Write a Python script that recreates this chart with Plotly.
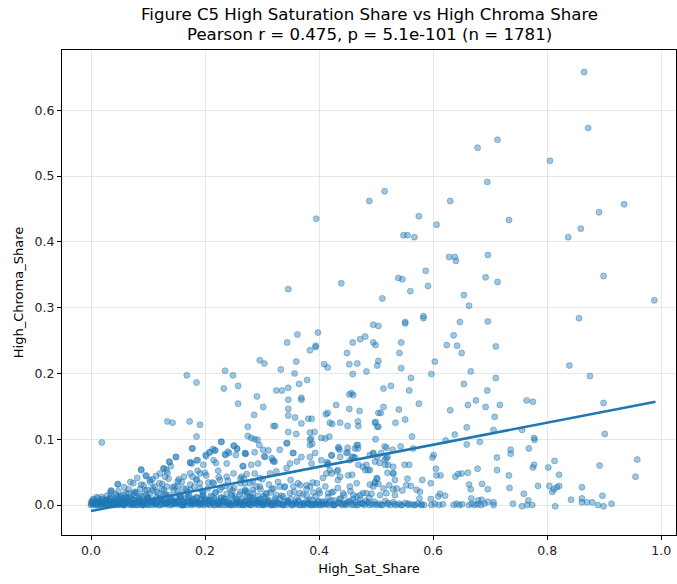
import numpy as np
import plotly.graph_objects as go

# ---- sparse / upper points (High_Sat_Share, High_Chroma_Share) ----
upper_x = [0.865,0.872,0.713,0.678,0.805,0.695,0.515,0.488,0.630,0.935,0.891,0.395,0.575,0.733,0.606,0.859,0.548,0.555,0.567,0.837,
           0.628,0.638,0.640,0.696,0.587,0.539,0.546,0.692,0.713,0.899,0.439,0.346,0.560,0.591,0.511,0.654,0.988,0.663,0.856,0.495,
           0.504,0.551,0.551,0.583,0.583,0.647,0.696,0.362,0.344,0.398,0.384,0.394,0.394,0.449,0.459,0.472,0.481,0.495,0.499,0.544,
           0.541,0.636,0.624,0.642,0.650,0.710,0.296,0.304,0.333,0.360,0.357,0.365,0.379,0.409,0.415,0.453,0.467,0.459,0.483,0.504,
           0.502,0.544,0.603,0.597,0.561,0.666,0.710,0.839,0.875,0.168,0.185,0.235,0.249,0.233,0.258,0.258,0.291,0.286,0.302,0.325,
           0.335,0.346,0.346,0.346,0.346,0.369,0.369,0.358,0.369,0.381,0.387,0.320,0.323,0.275,0.275,0.281,0.287,0.292,0.295,0.304,
           0.311,0.319,0.322,0.346,0.344,0.360,0.354,0.361,0.384,0.386,0.388,0.392,0.404,0.411,0.418,0.412,0.415,0.430,0.453,0.471,
           0.419,0.423,0.437,0.450,0.468,0.469,0.460,0.453,0.457,0.499,0.499,0.504,0.450,0.450,0.468,0.468,0.458,0.463,0.436,0.434,
           0.422,0.414,0.415,0.419,0.451,0.458,0.433,0.433,0.498,0.486,0.481,0.502,0.504,0.513,0.526,0.558,0.654,0.695,0.575,0.513,
           0.508,0.540,0.630,0.661,0.675,0.692,0.717,0.764,0.775,0.899,0.708,0.498,0.502,0.534,0.551,0.659,0.706,0.638,0.756,0.901,
           0.563,0.622,0.777,0.778,0.659,0.682,0.518,0.529,0.543,0.565,0.495,0.509,0.736,0.736,0.768,0.599,0.601,0.712,0.813,0.958,
           0.515,0.520,0.506,0.550,0.558,0.516,0.489,0.605,0.678,0.712,0.777,0.775,0.802,0.892,0.520,0.530,0.555,0.581,0.606,0.613,
           0.639,0.644,0.650,0.661,0.733,0.821,0.955,0.502,0.498,0.504,0.596,0.686,0.663,0.666,0.696,0.734,0.784,0.804,0.809,0.817,
           0.821,0.812,0.861,0.897,0.759,0.767,0.842,0.861,0.861,0.870,0.879,0.889,0.899,0.913,0.814,0.740,0.756,0.765,0.774,0.523,
           0.513,0.530,0.546,0.553,0.561,0.571,0.577,0.576,0.492,0.489]
upper_y = [0.658,0.573,0.555,0.543,0.523,0.491,0.477,0.462,0.462,0.457,0.445,0.435,0.439,0.433,0.426,0.420,0.410,0.410,0.407,0.407,
           0.377,0.377,0.371,0.380,0.356,0.345,0.343,0.346,0.339,0.348,0.337,0.328,0.325,0.333,0.314,0.319,0.311,0.303,0.284,0.274,
           0.272,0.278,0.276,0.287,0.284,0.278,0.279,0.259,0.247,0.262,0.235,0.242,0.240,0.231,0.247,0.252,0.256,0.247,0.243,0.247,
           0.231,0.258,0.243,0.242,0.231,0.241,0.220,0.215,0.206,0.218,0.200,0.184,0.190,0.214,0.209,0.214,0.215,0.199,0.203,0.219,
           0.212,0.208,0.218,0.199,0.193,0.203,0.193,0.212,0.196,0.197,0.186,0.204,0.197,0.177,0.181,0.154,0.165,0.137,0.149,0.174,
           0.174,0.178,0.160,0.146,0.136,0.163,0.160,0.133,0.124,0.131,0.131,0.120,0.120,0.119,0.105,0.102,0.100,0.099,0.091,0.074,
           0.083,0.068,0.066,0.111,0.094,0.108,0.079,0.066,0.110,0.101,0.093,0.111,0.102,0.101,0.104,0.138,0.140,0.152,0.146,0.143,
           0.125,0.123,0.125,0.120,0.127,0.120,0.167,0.168,0.170,0.126,0.100,0.119,0.087,0.080,0.091,0.086,0.073,0.072,0.084,0.088,
           0.075,0.065,0.061,0.053,0.045,0.046,0.053,0.038,0.066,0.053,0.053,0.073,0.140,0.177,0.181,0.174,0.184,0.174,0.154,0.149,
           0.140,0.145,0.144,0.152,0.159,0.149,0.152,0.159,0.157,0.155,0.134,0.125,0.119,0.125,0.130,0.118,0.114,0.107,0.114,0.108,
           0.104,0.098,0.102,0.099,0.092,0.096,0.087,0.084,0.089,0.086,0.078,0.079,0.084,0.078,0.086,0.072,0.076,0.072,0.067,0.069,
           0.069,0.073,0.064,0.061,0.061,0.061,0.053,0.055,0.055,0.053,0.061,0.057,0.057,0.060,0.049,0.048,0.040,0.038,0.045,0.045,
           0.043,0.047,0.048,0.049,0.045,0.046,0.043,0.040,0.035,0.032,0.033,0.032,0.031,0.024,0.024,0.026,0.029,0.029,0.020,0.027,
           0.029,0.024,0.027,0.014,0.017,0.007,0.008,0.010,0.004,0.004,0.004,0.000,-0.002,0.002,-0.002,0.002,-0.002,0.000,0.000,0.030,
           0.025,0.024,0.022,0.030,0.029,0.023,0.020,0.010,0.017,0.031]

# ---- left cloud (x < 0.28) ----
left_x = [0.019,0.134,0.143,0.173,0.191,0.185,0.177,0.228,0.217,0.208,0.201,0.250,0.256,0.235,0.242,0.271,0.187,0.177,0.174,0.149,
          0.137,0.132,0.088,0.096,0.128,0.047,0.035,0.088,0.047,0.036,0.066,0.077,0.097,0.104,0.108,0.088,0.086,0.120,0.124,0.127,
          0.134,0.138,0.140,0.149,0.154,0.159,0.152,0.174,0.178,0.185,0.187,0.197,0.202,0.208,0.214,0.218,0.215,0.219,0.223,0.238,
          0.236,0.240,0.251,0.256,0.254,0.271,0.229,0.266,0.273,0.174,0.178,0.185,0.191,0.200,0.206,0.191,0.121,0.130,0.112,0.098,
          0.057,0.045,0.133,0.145,0.162,0.174,0.215,0.226,0.238,0.250,0.262,0.270,0.226,0.244,0.262,0.273,0.197,0.156,0.127,0.098,
          0.069,0.027,0.010,0.000,0.074,0.115]
left_y = [0.095,0.127,0.125,0.127,0.122,0.104,0.086,0.096,0.083,0.080,0.076,0.090,0.086,0.077,0.079,0.078,0.068,0.063,0.065,0.073,
          0.066,0.053,0.053,0.045,0.055,0.032,0.022,0.054,0.031,0.021,0.018,0.020,0.044,0.035,0.039,0.031,0.024,0.033,0.024,0.056,
          0.049,0.065,0.059,0.073,0.039,0.035,0.029,0.064,0.086,0.068,0.052,0.061,0.074,0.080,0.085,0.083,0.068,0.064,0.052,0.063,
          0.076,0.081,0.090,0.085,0.076,0.078,0.096,0.059,0.047,0.048,0.043,0.038,0.048,0.049,0.034,0.033,0.048,0.043,0.028,0.023,
          0.015,0.013,0.028,0.023,0.025,0.023,0.033,0.038,0.043,0.048,0.040,0.033,0.023,0.025,0.020,0.018,0.018,0.013,0.015,0.010,
          0.010,0.008,0.005,0.002,0.033,0.020]

# ---- middle cloud (0.26 < x < 0.54, low values) ----
mid_x = [0.270,0.287,0.302,0.305,0.317,0.320,0.293,0.267,0.281,0.287,0.296,0.279,0.264,0.314,0.325,0.343,0.349,0.355,0.343,0.331,
         0.384,0.384,0.369,0.384,0.393,0.387,0.404,0.416,0.422,0.434,0.437,0.448,0.463,0.466,0.460,0.454,0.469,0.477,0.483,0.489,
         0.495,0.515,0.518,0.521,0.530,0.530,0.501,0.498,0.495,0.466,0.454,0.437,0.431,0.422,0.413,0.407,0.396,0.384,0.378,0.363,
         0.355,0.340,0.331,0.320,0.308,0.296,0.284,0.270,0.279,0.302,0.325,0.337,0.349,0.366,0.378,0.390,0.401,0.416,0.425,0.442,
         0.460,0.472,0.483,0.507,0.518,0.533,0.536,0.533]
mid_y = [0.079,0.080,0.084,0.073,0.071,0.066,0.063,0.059,0.061,0.048,0.041,0.033,0.043,0.048,0.051,0.056,0.063,0.079,0.094,0.084,
         0.099,0.091,0.073,0.073,0.079,0.063,0.068,0.063,0.076,0.086,0.073,0.079,0.086,0.091,0.073,0.068,0.061,0.058,0.061,0.076,
         0.079,0.089,0.071,0.061,0.058,0.048,0.041,0.033,0.028,0.033,0.028,0.043,0.051,0.048,0.048,0.041,0.033,0.028,0.030,0.033,
         0.028,0.028,0.028,0.025,0.018,0.028,0.023,0.023,0.013,0.013,0.015,0.013,0.018,0.018,0.015,0.019,0.018,0.018,0.020,0.018,
         0.015,0.015,0.018,0.015,0.018,0.015,0.025,0.038]

# ---- dense band near zero, x < 0.32 ----
band_a_x = [0.000,0.002,0.004,0.005,0.007,0.009,0.011,0.012,0.014,0.016,0.018,0.019,0.021,0.023,0.025,0.026,0.028,0.030,0.031,0.033,
            0.035,0.037,0.038,0.040,0.042,0.044,0.045,0.047,0.049,0.051,0.052,0.054,0.056,0.058,0.060,0.061,0.063,0.065,0.067,0.069,
            0.070,0.072,0.074,0.076,0.078,0.080,0.082,0.084,0.086,0.088,0.090,0.092,0.094,0.096,0.098,0.100,0.103,0.105,0.107,0.110,
            0.112,0.115,0.117,0.120,0.122,0.125,0.127,0.130,0.132,0.135,0.137,0.140,0.142,0.145,0.148,0.150,0.153,0.155,0.158,0.160,
            0.163,0.165,0.168,0.170,0.173,0.175,0.178,0.180,0.183,0.186,0.188,0.191,0.193,0.196,0.198,0.201,0.204,0.206,0.209,0.212,
            0.214,0.217,0.220,0.222,0.225,0.228,0.230,0.233,0.236,0.239,0.241,0.244,0.247,0.250,0.253,0.256,0.259,0.262,0.265,0.268,
            0.271,0.274,0.277,0.280,0.283,0.286,0.289,0.292,0.295,0.298]
band_a_y = [0.000,0.004,0.001,0.008,0.002,0.005,0.000,0.010,0.003,0.006,0.001,0.012,0.004,0.000,0.007,0.002,0.014,0.005,0.001,0.009,
            0.003,0.000,0.011,0.006,0.002,0.016,0.004,0.000,0.008,0.013,0.001,0.005,0.010,0.000,0.003,0.018,0.006,0.002,0.012,0.000,
            0.004,0.009,0.001,0.015,0.003,0.007,0.000,0.011,0.005,0.002,0.013,0.000,0.006,0.003,0.009,0.001,0.017,0.004,0.000,0.008,
            0.002,0.012,0.005,0.000,0.010,0.003,0.007,0.001,0.014,0.004,0.000,0.009,0.002,0.006,0.011,0.001,0.004,0.016,0.000,0.007,
            0.003,0.010,0.000,0.005,0.013,0.002,0.008,0.001,0.004,0.011,0.000,0.006,0.002,0.015,0.004,0.009,0.001,0.007,0.000,0.012,
            0.003,0.000,0.008,0.002,0.005,0.011,0.000,0.004,0.009,0.001,0.006,0.000,0.013,0.003,0.001,0.008,0.000,0.005,0.010,0.002,
            0.000,0.007,0.003,0.000,0.011,0.004,0.001,0.006,0.000,0.009]
band_b_x = [0.001,0.006,0.010,0.015,0.020,0.024,0.029,0.034,0.039,0.043,0.048,0.053,0.057,0.062,0.066,0.071,0.075,0.079,0.083,0.087,
            0.091,0.095,0.099,0.104,0.108,0.113,0.118,0.123,0.128,0.133,0.138,0.143,0.147,0.152,0.157,0.162,0.167,0.171,0.176,0.181,
            0.185,0.190,0.195,0.200,0.205,0.210,0.215,0.219,0.224,0.229,0.234,0.238,0.243,0.248,0.252,0.257,0.261,0.266,0.270,0.275,
            0.279,0.284,0.288,0.293,0.297,0.302,0.306,0.311,0.315,0.320]
band_b_y = [0.006,0.002,0.012,0.000,0.009,0.003,0.007,0.019,0.001,0.010,0.021,0.006,0.000,0.011,0.024,0.002,0.008,0.019,0.004,0.014,
            0.000,0.022,0.011,0.006,0.026,0.001,0.018,0.009,0.023,0.002,0.015,0.027,0.005,0.020,0.010,0.000,0.024,0.016,0.006,0.028,
            0.012,0.003,0.021,0.008,0.025,0.014,0.004,0.019,0.000,0.027,0.010,0.017,0.002,0.022,0.013,0.004,0.016,0.000,0.021,0.012,
            0.003,0.018,0.008,0.014,0.024,0.001,0.011,0.005,0.019,0.000]
band_d_x = [0.052,0.058,0.064,0.069,0.075,0.081,0.086,0.092,0.097,0.103,0.108,0.114,0.119,0.125,0.130,0.136,0.141,0.147,0.152,0.158,
            0.163,0.169,0.174,0.180,0.185,0.191,0.196,0.202,0.207,0.213,0.218,0.224,0.229,0.235,0.240,0.246,0.251,0.257,0.262,0.268,
            0.273,0.279,0.284,0.290,0.295,0.301,0.306,0.312,0.317,0.323,0.328,0.334,0.339,0.345,0.350,0.356,0.361,0.367,0.372,0.378,
            0.383,0.389,0.394,0.400,0.405,0.411,0.416,0.422,0.427,0.433,0.438,0.444,0.449,0.455,0.460,0.466,0.471,0.477,0.482,0.488]
band_d_y = [0.012,0.027,0.008,0.035,0.018,0.041,0.005,0.030,0.015,0.038,0.022,0.044,0.010,0.032,0.017,0.040,0.006,0.028,0.036,0.013,
            0.043,0.020,0.031,0.009,0.039,0.025,0.014,0.045,0.007,0.034,0.019,0.042,0.011,0.029,0.037,0.016,0.026,0.004,0.033,0.040,
            0.021,0.012,0.036,0.028,0.008,0.039,0.017,0.031,0.024,0.010,0.035,0.014,0.027,0.006,0.038,0.020,0.011,0.030,0.016,0.024,
            0.008,0.034,0.013,0.022,0.005,0.028,0.012,0.019,0.007,0.026,0.010,0.015,0.004,0.021,0.009,0.013,0.003,0.018,0.006,0.011]
band_e_x = [0.003,0.008,0.013,0.017,0.022,0.027,0.032,0.036,0.041,0.046,0.050,0.055,0.059,0.064,0.068,0.073,0.077,0.081,0.085,0.089,
            0.093,0.097,0.101,0.106,0.111,0.116,0.121,0.126,0.131,0.136,0.141,0.146,0.151,0.156,0.161,0.166,0.171,0.176,0.181,0.186,
            0.191,0.196,0.201,0.206,0.211,0.216,0.221,0.226,0.231,0.236,0.241,0.246,0.251,0.256,0.261,0.266,0.271,0.276,0.281,0.286,
            0.291,0.296,0.303,0.310,0.317,0.324,0.331,0.338,0.345,0.352,0.359,0.366,0.373,0.380,0.387,0.394,0.401,0.412,0.425,0.438]
band_e_y = [0.002,0.000,0.005,0.001,0.003,0.000,0.006,0.002,0.000,0.004,0.001,0.003,0.000,0.005,0.002,0.000,0.004,0.001,0.006,0.000,
            0.003,0.001,0.000,0.005,0.002,0.004,0.000,0.001,0.003,0.006,0.000,0.002,0.004,0.001,0.000,0.005,0.003,0.000,0.002,0.004,
            0.001,0.000,0.006,0.002,0.003,0.000,0.004,0.001,0.005,0.000,0.002,0.003,0.000,0.004,0.001,0.000,0.005,0.002,0.000,0.003,
            0.001,0.004,0.000,0.002,0.000,0.003,0.001,0.000,0.004,0.000,0.002,0.000,0.001,0.003,0.000,0.002,0.000,0.001,0.000,0.002]
band_f_x = [0.004,0.011,0.019,0.026,0.033,0.041,0.048,0.055,0.063,0.070,0.078,0.085,0.093,0.100,0.108,0.115,0.123,0.131,0.139,0.147,
            0.154,0.162,0.170,0.177,0.185,0.193,0.200,0.208,0.216,0.223,0.231,0.239,0.246,0.254,0.262,0.269,0.277,0.285,0.292,0.300,
            0.309,0.318,0.327,0.336,0.345,0.354,0.363,0.372,0.381,0.390,0.399,0.408,0.417,0.426,0.435,0.445,0.455,0.465,0.476,0.487,
            0.498,0.509,0.521,0.532,0.544,0.556,0.568,0.580]
band_f_y = [0.009,0.003,0.007,0.001,0.011,0.004,0.008,0.002,0.010,0.005,0.000,0.009,0.003,0.012,0.006,0.001,0.008,0.004,0.010,0.002,
            0.007,0.000,0.011,0.005,0.003,0.009,0.001,0.006,0.010,0.002,0.007,0.004,0.000,0.009,0.003,0.006,0.001,0.008,0.004,0.002,
            0.006,0.001,0.004,0.000,0.007,0.002,0.005,0.001,0.003,0.000,0.006,0.002,0.004,0.000,0.003,0.001,0.005,0.000,0.002,0.004,
            0.001,0.000,0.003,0.001,0.000,0.002,0.000,0.001]

# ---- band near zero, x > 0.30 ----
band_c_x = [0.301,0.304,0.308,0.311,0.315,0.318,0.322,0.325,0.329,0.332,0.336,0.339,0.343,0.346,0.350,0.353,0.357,0.360,0.364,0.367,
            0.371,0.374,0.378,0.381,0.385,0.388,0.392,0.395,0.399,0.402,0.406,0.410,0.413,0.417,0.421,0.424,0.428,0.432,0.436,0.440,
            0.444,0.448,0.452,0.456,0.460,0.464,0.468,0.472,0.476,0.480,0.484,0.489,0.493,0.497,0.502,0.506,0.511,0.516,0.520,0.525,
            0.530,0.535,0.540,0.545,0.551,0.556,0.562,0.567,0.573,0.579,0.584,0.597,0.603,0.610,0.617,0.636,0.641,0.646,0.651,0.663,
            0.668,0.673,0.678,0.684,0.690,0.706,0.596,0.609,0.612,0.621,0.667,0.679,0.685,0.696,0.706]
band_c_y = [0.000,0.004,0.001,0.008,0.000,0.003,0.006,0.000,0.002,0.010,0.001,0.005,0.000,0.003,0.009,0.000,0.004,0.001,0.007,0.000,
            0.003,0.000,0.006,0.001,0.000,0.008,0.002,0.000,0.004,0.001,0.000,0.005,0.002,0.000,0.007,0.001,0.000,0.003,0.009,0.000,
            0.002,0.000,0.006,0.001,0.000,0.004,0.000,0.008,0.002,0.000,0.003,0.000,0.001,0.005,0.000,0.002,0.000,0.006,0.001,0.000,
            0.004,0.000,0.002,0.000,0.003,0.000,0.001,0.000,0.002,0.000,0.000,0.000,0.002,0.000,0.001,0.000,0.002,0.000,0.001,0.000,
            0.002,0.000,0.001,0.000,0.002,0.000,0.009,0.013,0.017,0.014,0.010,0.007,0.008,0.005,0.004]

# ---- OLS fit line (endpoints) ----
fit_x = [0.0, 0.99]
fit_y = [-0.009, 0.157]

x_ticks = [0.0, 0.2, 0.4, 0.6, 0.8, 1.0]
y_ticks = [0.0, 0.1, 0.2, 0.3, 0.4, 0.5, 0.6]

title_lines = ["Figure C5 High Saturation Share vs High Chroma Share",
               "Pearson r = 0.475, p = 5.1e-101 (n = 1781)"]

all_x = np.concatenate([band_a_x, band_b_x, band_d_x, band_e_x, band_f_x, band_c_x, left_x, mid_x, upper_x])
all_y = np.concatenate([band_a_y, band_b_y, band_d_y, band_e_y, band_f_y, band_c_y, left_y, mid_y, upper_y])

fig = go.Figure()
fig.add_trace(go.Scatter(
    x=all_x, y=all_y, mode="markers",
    marker=dict(size=6, color="rgba(31,119,180,0.42)",
                line=dict(color="rgba(31,119,180,0.42)", width=1)),
    showlegend=False, hoverinfo="skip"))
fig.add_trace(go.Scatter(
    x=fit_x, y=fit_y, mode="lines",
    line=dict(color="#1f77b4", width=2.6), showlegend=False))

axis_common = dict(
    showline=True, linecolor="black", linewidth=1, mirror=True,
    ticks="outside", ticklen=4, tickcolor="black", tickwidth=1,
    showgrid=True, gridcolor="rgba(0,0,0,0.09)", gridwidth=1,
    zeroline=False, tickfont=dict(family="DejaVu Sans", size=12.5, color="#222"),
    tickformat=".1f",
)

for txt, shift in zip(title_lines, [24, 4]):
    fig.add_annotation(text=txt, xref="paper", yref="paper", x=0.5, y=1.0,
                       xanchor="center", yanchor="bottom", yshift=shift, showarrow=False,
                       font=dict(family="DejaVu Sans", size=16.6, color="black"))

fig.update_layout(
    width=677, height=584,
    margin=dict(l=62, r=1, t=50, b=49),
    paper_bgcolor="white", plot_bgcolor="white",
    font=dict(family="DejaVu Sans", color="black"),
    xaxis=dict(axis_common, range=[-0.0509, 1.026], tickvals=x_ticks,
               title=dict(text="High_Sat_Share", standoff=6,
                          font=dict(family="DejaVu Sans", size=13))),
    yaxis=dict(axis_common, range=[-0.0456, 0.6915], tickvals=y_ticks,
               title=dict(text="High_Chroma_Share", standoff=8,
                          font=dict(family="DejaVu Sans", size=13))),
)

fig.write_html("out.html")
